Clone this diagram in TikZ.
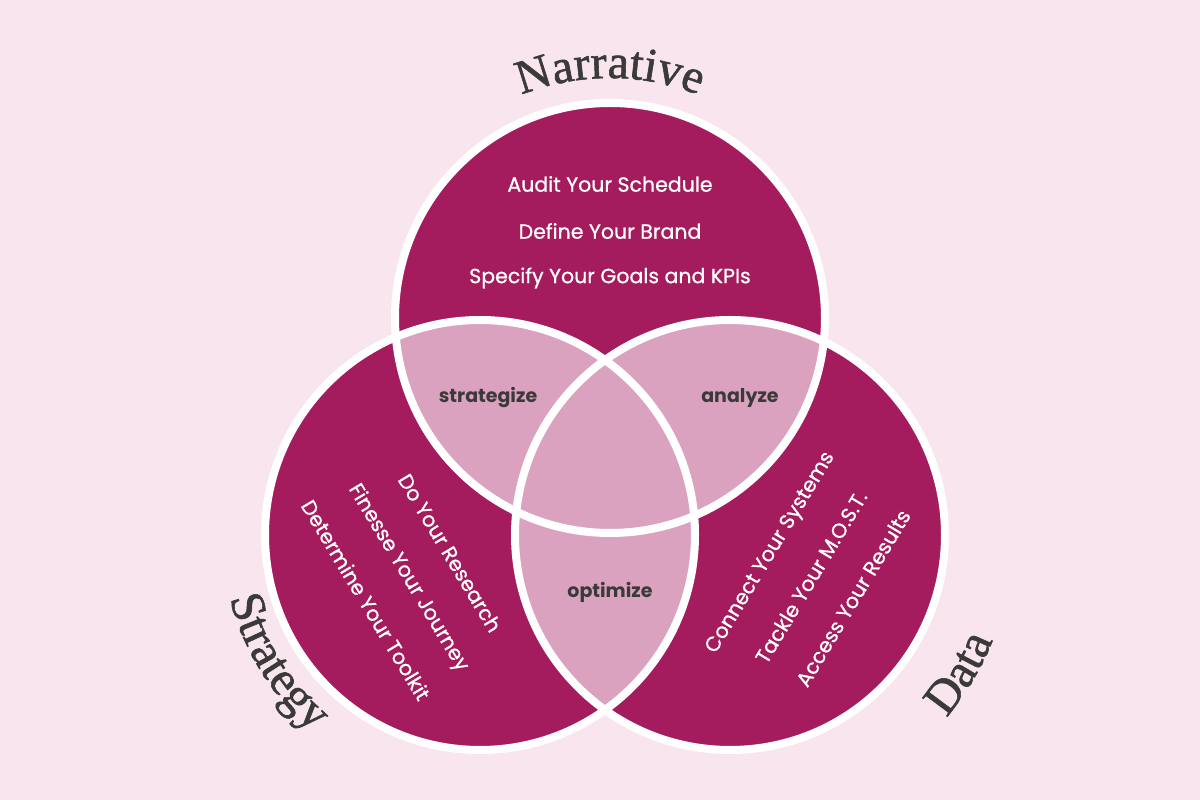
\documentclass[tikz,border=0pt]{standalone}
\usepackage{fontspec}
\setmainfont{Poppins}
\usetikzlibrary{decorations.text,calc}
\definecolor{bg}{HTML}{F9E5EE}
\definecolor{dark}{HTML}{A41C5E}
\definecolor{light}{HTML}{DBA2C0}
\definecolor{ink}{HTML}{3A3A3A}
\newcommand{\ttlfont}{\fontspec{Liberation Serif}[FakeBold=1.2]\fontsize{48}{52}\selectfont\color{ink}}
\begin{document}
\begin{tikzpicture}[x=1pt,y=1pt,
  body/.style={text=white,font=\addfontfeature{FakeBold=0.8}\fontsize{20.5}{24}\selectfont,inner sep=0pt},
  lab/.style={text=ink,font=\bfseries\fontsize{19}{22}\selectfont,inner sep=0pt},
  ring/.style={draw=white,line width=8pt}]
\fill[bg] (0,0) rectangle (1200,800);
\useasboundingbox (0,0) rectangle (1200,800);
\coordinate (T) at (610,482);
\coordinate (L) at (480,265);
\coordinate (R) at (730,265);
\def\r{215}
% dark circles
\fill[dark] (T) circle[radius=\r];
\fill[dark] (L) circle[radius=\r];
\fill[dark] (R) circle[radius=\r];
% intersections
\begin{scope}\clip (T) circle[radius=\r]; \fill[light] (L) circle[radius=\r]; \fill[light] (R) circle[radius=\r];\end{scope}
\begin{scope}\clip (L) circle[radius=\r]; \fill[light] (R) circle[radius=\r];\end{scope}
\draw[ring] (T) circle[radius=\r];
\draw[ring] (L) circle[radius=\r];
\draw[ring] (R) circle[radius=\r];
% top texts
\node[body] (a1) at (610,616) {Audit Your Schedule};
\node[body] (a2) at (610,569) {Define Your Brand};
\node[body] (a3) at (610,522) {Specify Your Goals and KPIs};
% left texts
\node[body,rotate=-59] (b1) at (450,247) {Do Your Research};
\node[body,rotate=-59] (b2) at (408,222) {Finesse Your Journey};
\node[body,rotate=-59] (b3) at (366,200) {Determine Your Toolkit};
% right texts
\node[body,rotate=59] (c1) at (771,247) {Connect Your Systems};
\node[body,rotate=59] (c2) at (811,223) {Tackle Your M.O.S.T.};
\node[body,rotate=59] (c3) at (853,202) {Access Your Results};
% labels
\node[lab] (s) at (488,402) {strategize};
\node[lab] (an) at (740,402) {analyze};
\node[lab] (o) at (610,208) {optimize};
% titles
\path[decorate,decoration={text along path,text align=center,
  text format delimiters={|}{|},text={|\ttlfont|Narrative}}]
  ($(T)+(118:240)$) arc[start angle=118,end angle=62,radius=240];
\path[decorate,decoration={text along path,text align=center,
  text format delimiters={|}{|},text={|\ttlfont|Strategy}}]
  ($(L)+(186:258)$) arc[start angle=186,end angle=238,radius=258];
\path[decorate,decoration={text along path,text align=center,
  text format delimiters={|}{|},text={|\ttlfont|Data}}]
  ($(R)+(-48:283)$) arc[start angle=-48,end angle=-14,radius=283];
\end{tikzpicture}
\end{document}
